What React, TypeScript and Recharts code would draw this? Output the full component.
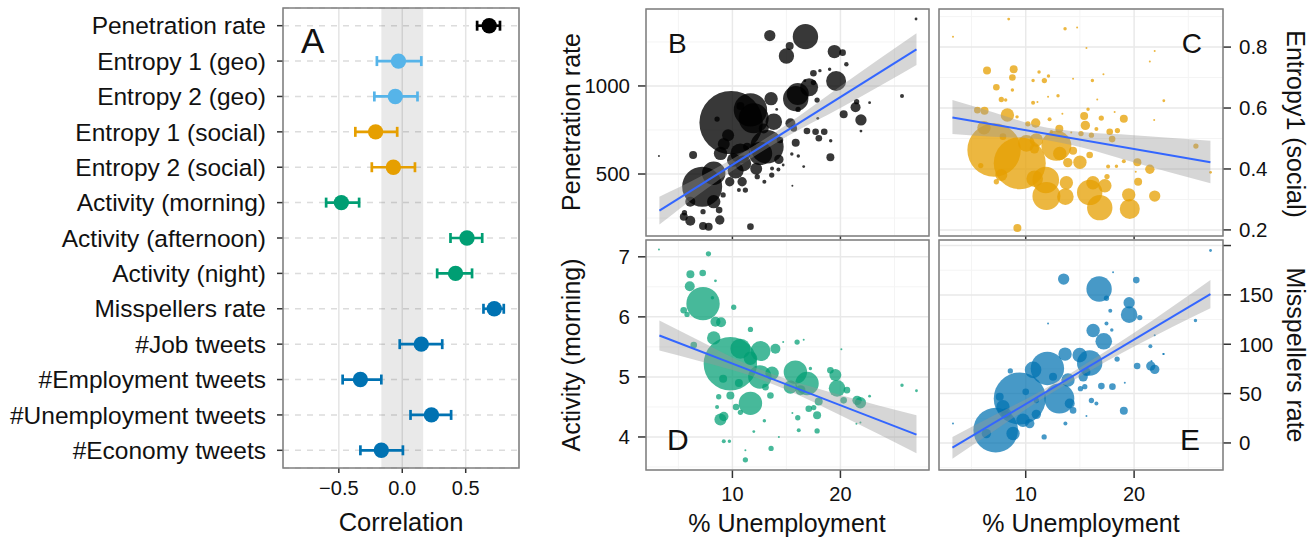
import React from 'react';
import {
  ComposedChart,
  ScatterChart,
  Scatter,
  XAxis,
  YAxis,
  ZAxis,
  CartesianGrid,
  ErrorBar,
  ReferenceArea,
  Line,
  Area,
} from 'recharts';

const FONT = '"Liberation Sans", Arial, Helvetica, sans-serif';
const INK = '#111111';

// ---------- panel A: correlations ----------
const corrLabels = [
  'Penetration rate',
  'Entropy 1 (geo)',
  'Entropy 2 (geo)',
  'Entropy 1 (social)',
  'Entropy 2 (social)',
  'Activity (morning)',
  'Activity (afternoon)',
  'Activity (night)',
  'Misspellers rate',
  '#Job tweets',
  '#Employment tweets',
  '#Unemployment tweets',
  '#Economy tweets',
];
const corrValues = [0.685, -0.03, -0.055, -0.21, -0.07, -0.48, 0.51, 0.42, 0.725, 0.15, -0.33, 0.23, -0.165];
const corrLow = [0.59, -0.2, -0.22, -0.37, -0.24, -0.6, 0.38, 0.275, 0.64, -0.02, -0.47, 0.065, -0.33];
const corrHigh = [0.77, 0.15, 0.12, -0.04, 0.1, -0.34, 0.63, 0.55, 0.8, 0.315, -0.165, 0.385, 0.005];
const corrGroup = [0, 1, 1, 2, 2, 3, 3, 3, 4, 4, 4, 4, 4];
const groupColors = ['#000000', '#56B4E9', '#E69F00', '#009E73', '#0072B2'];
const corrTicks = [-0.5, 0, 0.5];
const corrTickLabels = ['\u22120.5', '0.0', '0.5'];
const nullBand = [-0.165, 0.165];

// ---------- panels B-E: [% unemployment, value, bubble weight] ----------
type Pt = [number, number, number];

const penetrationPts: Pt[] = [
  [16.76, 1280, 161], [13.46, 1286, 32], [15.3, 1227, 16], [15.0, 1170, 59], [19.44, 1195, 45],
  [20.2, 1189, 11], [20.55, 1123, 5], [19.6, 1028, 100], [19.0, 1095, 3], [17.5, 1072, 11],
  [18.1, 1087, 3], [17.1, 992, 81], [16.05, 955, 121], [15.86, 928, 161], [17.5, 1019, 7],
  [13.58, 928, 45], [17.84, 920, 7], [16.08, 867, 7], [9.88, 792, 1005], [11.67, 864, 279],
  [11.97, 816, 225], [10.74, 886, 16], [8.58, 812, 7], [13.83, 797, 69], [15.37, 788, 25],
  [12.9, 759, 25], [15.68, 759, 11], [16.9, 744, 11], [17.7, 740, 11], [18.5, 740, 11],
  [18.0, 703, 11], [19.1, 689, 3], [15.86, 678, 16], [13.2, 655, 279], [12.6, 617, 137],
  [9.2, 670, 36], [8.9, 617, 45], [10.74, 617, 100], [10.12, 580, 45], [11.36, 655, 16],
  [11.98, 659, 7], [14.3, 583, 22], [15.5, 614, 3], [16.1, 602, 3], [19.07, 595, 16],
  [16.6, 542, 2], [6.36, 608, 16], [3.2, 602, 1], [7.2, 428, 400], [8.27, 504, 137],
  [8.27, 343, 45], [6.1, 343, 25], [5.56, 280, 7], [5.5, 258, 16], [6.1, 235, 25],
  [7.28, 286, 7], [8.83, 239, 22], [7.28, 205, 16], [7.8, 201, 16], [8.77, 295, 11],
  [9.14, 381, 7], [9.75, 456, 22], [10.9, 456, 22], [11.2, 409, 7], [10.6, 409, 4],
  [11.67, 201, 11], [12.3, 485, 7], [12.96, 456, 4], [13.64, 494, 7], [13.67, 532, 4],
  [14.26, 526, 4], [14.7, 551, 2], [15.55, 434, 1], [21.4, 879, 25], [21.9, 807, 32],
  [21.5, 911, 7], [20.3, 839, 16], [22.7, 905, 2], [21.9, 744, 2], [25.7, 943, 4],
  [27.0, 1380, 2], [14.4, 693, 11], [14.1, 867, 2], [17.9, 816, 2], [16.7, 1030, 2],
  [11.0, 560, 64], [12.2, 530, 36], [10.3, 520, 64], [9.6, 720, 36],
];

const entropyPts: Pt[] = [
  [3.29, 0.834, 1], [8.43, 0.892, 2], [13.63, 0.86, 3], [14.74, 0.864, 1], [15.6, 0.797, 1],
  [21.9, 0.787, 1], [21.45, 0.753, 1], [6.43, 0.723, 16], [8.89, 0.727, 16], [8.77, 0.7, 11],
  [11.23, 0.718, 3], [12.1, 0.705, 3], [11.72, 0.69, 7], [10.68, 0.69, 3], [14.37, 0.696, 1],
  [16.15, 0.69, 3], [17.17, 0.711, 1], [7.29, 0.668, 11], [8.77, 0.659, 3], [12.06, 0.637, 1],
  [12.98, 0.64, 3], [7.75, 0.628, 7], [8.15, 0.626, 3], [10.68, 0.617, 4], [11.08, 0.62, 1],
  [16.6, 0.628, 1], [22.74, 0.624, 2], [5.54, 0.593, 11], [6.2, 0.591, 16], [8.31, 0.577, 45],
  [9.2, 0.571, 3], [15.75, 0.596, 3], [13.38, 0.581, 1], [15.39, 0.574, 16], [16.97, 0.567, 7],
  [19.05, 0.565, 16], [18.2, 0.587, 1], [21.85, 0.561, 1], [12.2, 0.563, 4], [15.5, 0.543, 22],
  [16.52, 0.531, 4], [17.75, 0.522, 11], [18.46, 0.526, 7], [10.92, 0.551, 22], [10.2, 0.548, 7],
  [6.15, 0.535, 45], [13.1, 0.532, 16], [12.37, 0.522, 3], [14.2, 0.52, 1], [15.1, 0.516, 7],
  [16.06, 0.511, 7], [17.97, 0.498, 11], [7.08, 0.462, 713], [9.45, 0.419, 676], [12.83, 0.476, 225],
  [13.14, 0.451, 45], [10.98, 0.495, 45], [10.06, 0.484, 69], [14.37, 0.46, 16], [15.0, 0.422, 45],
  [15.9, 0.446, 11], [13.88, 0.421, 22], [11.85, 0.364, 177], [10.83, 0.368, 69], [7.75, 0.38, 36],
  [5.85, 0.411, 7], [7.29, 0.358, 7], [11.91, 0.311, 196], [13.66, 0.309, 69], [13.75, 0.355, 45],
  [15.9, 0.323, 161], [16.83, 0.273, 161], [16.2, 0.355, 45], [17.3, 0.345, 45], [17.5, 0.375, 7],
  [19.6, 0.269, 100], [19.5, 0.315, 45], [21.9, 0.311, 32], [20.37, 0.358, 16], [20.3, 0.422, 16],
  [21.45, 0.399, 22], [19.05, 0.425, 4], [17.6, 0.408, 4], [18.37, 0.409, 3], [20.15, 0.391, 1],
  [25.7, 0.475, 7], [27.05, 0.389, 2], [9.23, 0.206, 16], [7.9, 0.506, 11], [10.8, 0.466, 22],
];

const morningPts: Pt[] = [
  [3.2, 7.12, 1], [7.78, 7.05, 7], [6.11, 6.71, 16], [7.25, 6.73, 11], [6.05, 6.51, 25],
  [7.28, 6.22, 279], [5.49, 6.11, 11], [5.8, 6.04, 7], [8.43, 5.92, 25], [8.95, 5.91, 25],
  [8.15, 6.32, 3], [8.43, 6.6, 2], [10.12, 6.16, 7], [11.67, 5.79, 7], [8.27, 5.65, 45],
  [6.42, 5.53, 11], [9.81, 5.22, 713], [10.74, 5.47, 100], [12.6, 5.43, 100], [13.98, 5.47, 25],
  [11.67, 5.31, 45], [12.54, 5.0, 137], [13.67, 5.06, 45], [11.67, 4.56, 137], [9.14, 4.97, 16],
  [9.81, 4.69, 16], [8.73, 4.67, 7], [8.58, 4.5, 4], [8.89, 4.29, 36], [9.2, 4.34, 22],
  [10.34, 4.5, 11], [10.74, 4.41, 7], [13.52, 4.69, 11], [13.06, 4.83, 11], [15.83, 5.08, 137],
  [16.91, 4.89, 137], [15.37, 4.83, 45], [15.99, 5.58, 7], [16.6, 5.62, 1], [14.7, 5.58, 1],
  [16.3, 4.78, 25], [17.22, 5.14, 3], [19.07, 5.11, 11], [19.53, 5.03, 36], [19.69, 4.81, 69],
  [20.6, 4.78, 11], [20.3, 4.61, 11], [21.54, 4.61, 22], [21.85, 4.57, 32], [17.99, 4.59, 16],
  [17.07, 4.47, 11], [17.84, 4.36, 16], [17.53, 4.49, 7], [16.05, 4.32, 7], [15.55, 4.4, 1],
  [16.14, 4.11, 4], [17.84, 4.1, 7], [12.96, 4.27, 3], [11.98, 4.09, 2], [14.3, 4.0, 1],
  [13.58, 3.81, 7], [11.2, 3.78, 1], [11.2, 3.62, 7], [9.2, 3.93, 4], [9.72, 3.93, 3],
  [20.09, 5.46, 1], [22.7, 4.68, 2], [21.48, 4.22, 1], [21.85, 4.24, 1], [25.7, 4.86, 3],
  [27.04, 4.77, 2], [10.6, 4.9, 16],
];

const misspellPts: Pt[] = [
  [27.05, 195, 2], [13.5, 166, 32], [20.2, 165, 11], [18.06, 173, 1], [16.77, 156, 161],
  [17.45, 146.6, 7], [19.54, 142, 32], [19.54, 130, 69], [20.52, 127, 7], [17.8, 134, 4],
  [17.45, 121, 4], [17.94, 114.5, 3], [12.06, 121, 1], [16.22, 114, 45], [17.2, 103, 69],
  [21.9, 109, 1], [21.5, 98, 4], [25.66, 124, 3], [22.68, 90, 1], [13.63, 90, 45],
  [14.98, 89, 53], [15.9, 81, 161], [18.43, 85, 7], [12.0, 75.5, 279], [10.68, 74, 69],
  [8.58, 73, 7], [9.45, 45, 676], [7.23, 13, 497], [13.1, 45, 225], [13.9, 63.7, 45],
  [14.06, 40, 25], [12.52, 67, 16], [15.3, 67, 22], [15.45, 57, 7], [15.6, 72, 16],
  [16.98, 57.6, 11], [18.0, 57, 11], [15.05, 55, 7], [16.06, 43, 7], [16.52, 40, 4],
  [19.05, 32.5, 16], [15.6, 27.4, 1], [13.66, 19.6, 4], [11.7, 6.1, 7], [14.37, 33, 11],
  [10.98, 29, 22], [10.37, 19.6, 22], [8.83, 9.5, 45], [7.9, 36.6, 45], [7.6, 46.7, 16],
  [3.29, 19.6, 1], [20.28, 78, 11], [21.54, 78, 22], [21.9, 74.5, 22], [21.6, 83, 1],
  [22.74, 90, 1], [19.14, 61, 1], [10.0, 51.8, 11], [10.98, 43, 7], [8.2, 30, 25],
  [6.37, 9.5, 22], [9.75, 23, 45],
];

// fitted lines and confidence bands
const fitX = [3.24, 27.04];
const bandX = [3.24, 7, 11, 15, 20, 27.04];

const penetrationFit = [292, 1208];
const penetrationLo = [213, 390, 560, 712, 875, 1119];
const penetrationHi = [371, 484, 622, 780, 999, 1299];

const entropyFit = [0.569, 0.422];
const entropyLo = [0.515, 0.506, 0.499, 0.472, 0.421, 0.353];
const entropyHi = [0.626, 0.586, 0.543, 0.522, 0.511, 0.493];

const morningFit = [5.69, 4.04];
const morningLo = [5.44, 5.26, 5.06, 4.785, 4.36, 3.73];
const morningHi = [5.94, 5.6, 5.24, 4.965, 4.7, 4.36];

const misspellFit = [-4.7, 150.7];
const misspellLo = [-15.9, 11.6, 41.2, 67.4, 97.6, 136.5];
const misspellHi = [6.1, 27.6, 50.2, 76.4, 111.6, 165];

const unempDomain: [number, number] = [2.0, 28.2];
const unempTicks = [10, 20];
const unempMinor = [5, 15, 25];

const Z_MAX = 1024;

interface PanelProps {
  left: number;
  top: number;
  width: number;
  height: number;
  margin: { top: number; right: number; bottom: number; left: number };
  points: Pt[];
  color: string;
  opacity: number;
  yDomain: [number, number];
  yTicks: number[];
  yTickLabels: string[];
  yMinor: number[];
  fit: number[];
  lo: number[];
  hi: number[];
  showX: boolean;
  right: boolean;
}

function BubblePanel(p: PanelProps) {
  const pts = p.points.map(([x, y, w]) => ({ x, y, w }));
  const fitData = fitX.map((x, i) => ({ x, fit: p.fit[i] }));
  const bandData = bandX.map((x, i) => ({ x, band: [p.lo[i], p.hi[i]] }));
  const tickLine = { stroke: '#333', strokeWidth: 1.5 };
  return (
    <div style={{ position: 'absolute', left: p.left, top: p.top }}>
      <ComposedChart width={p.width} height={p.height} margin={p.margin}>
        <CartesianGrid
          verticalValues={unempMinor}
          horizontalValues={p.yMinor}
          stroke="#f4f4f4"
          strokeWidth={1}
        />
        <CartesianGrid stroke="#e9e9e9" strokeWidth={1.5} />
        <XAxis
          type="number"
          dataKey="x"
          domain={unempDomain}
          ticks={unempTicks}
          allowDataOverflow
          interval={0}
          height={p.showX ? 70 : 4}
          tickSize={p.showX ? 8 : 4}
          tickMargin={9}
          axisLine={false}
          tickLine={tickLine}
          tick={{ fill: INK, fontSize: 20 }}
          tickFormatter={(v: number) => (p.showX ? String(v) : '')}
        />
        <YAxis
          type="number"
          dataKey="y"
          orientation={p.right ? 'right' : 'left'}
          domain={p.yDomain}
          ticks={p.yTicks}
          allowDataOverflow
          interval={0}
          width={p.right ? 92 : 86}
          tickSize={8}
          tickMargin={8}
          axisLine={false}
          tickLine={tickLine}
          tick={{ fill: INK, fontSize: 20.5 }}
          tickFormatter={(v: number) => p.yTickLabels[p.yTicks.indexOf(v)] ?? ''}
        />
        <ZAxis type="number" dataKey="w" domain={[0, Z_MAX]} range={[0, Z_MAX * Math.PI]} />
        <Scatter data={pts} fill={p.color} fillOpacity={p.opacity} isAnimationActive={false} />
        <Area
          data={bandData}
          dataKey="band"
          type="monotone"
          stroke="none"
          fill="#999999"
          fillOpacity={0.4}
          isAnimationActive={false}
          zIndex={700}
        />
        <Line
          data={fitData}
          dataKey="fit"
          type="linear"
          stroke="#3366FF"
          strokeWidth={2}
          dot={false}
          activeDot={false}
          isAnimationActive={false}
          zIndex={800}
        />
        <ReferenceArea
          x1={unempDomain[0]}
          x2={unempDomain[1]}
          y1={p.yDomain[0]}
          y2={p.yDomain[1]}
          fill="none"
          stroke="#7f7f7f"
          strokeWidth={1.5}
          zIndex={900}
        />
      </ComposedChart>
    </div>
  );
}

function CorrelationPanel() {
  const xDomain: [number, number] = [-0.94, 0.92];
  const rowTicks = corrLabels.map((_, i) => i);
  const groups = groupColors.map((color, g) => ({
    color,
    rows: corrValues
      .map((v, i) => ({ row: i, r: v, err: [v - corrLow[i], corrHigh[i] - v], g: corrGroup[i] }))
      .filter((d) => d.g === g),
  }));
  return (
    <div style={{ position: 'absolute', left: 0, top: 0 }}>
      <ScatterChart width={530} height={540} margin={{ top: 8, right: 11, bottom: 0, left: 0 }}>
        <ReferenceArea
          x1={nullBand[0]}
          x2={nullBand[1]}
          fill="#000000"
          fillOpacity={0.085}
          stroke="none"
        />
        <CartesianGrid vertical={false} strokeDasharray="6 6" stroke="#dcdcdc" strokeWidth={1.5} />
        <CartesianGrid horizontal={false} stroke="#e4e4e4" strokeWidth={1.5} />
        <XAxis
          type="number"
          dataKey="r"
          domain={xDomain}
          ticks={corrTicks}
          allowDataOverflow
          interval={0}
          height={72}
          tickSize={5}
          tickMargin={8}
          axisLine={false}
          tickLine={{ stroke: '#333', strokeWidth: 1.5 }}
          tick={{ fill: INK, fontSize: 20 }}
          tickFormatter={(v: number) => corrTickLabels[corrTicks.indexOf(v)] ?? ''}
        />
        <YAxis
          type="number"
          dataKey="row"
          domain={[-0.5, 12.5]}
          reversed
          ticks={rowTicks}
          allowDataOverflow
          interval={0}
          width={283}
          tickSize={6}
          tickMargin={11}
          axisLine={false}
          tickLine={{ stroke: '#333', strokeWidth: 1.5 }}
          tick={{ fill: INK, fontSize: 24.5 }}
          tickFormatter={(v: number) => corrLabels[v] ?? ''}
        />
        {groups.map((g) => (
          <Scatter
            key={g.color}
            data={g.rows}
            fill={g.color}
            isAnimationActive={false}
            shape={(s: any) => <circle cx={s.cx} cy={s.cy} r={7.7} fill={g.color} />}
          >
            <ErrorBar dataKey="err" direction="x" width={5} stroke={g.color} strokeWidth={2.7} />
          </Scatter>
        ))}
        <ReferenceArea
          x1={xDomain[0]}
          x2={xDomain[1]}
          y1={-0.5}
          y2={12.5}
          fill="none"
          stroke="#7f7f7f"
          strokeWidth={1.5}
          zIndex={900}
        />
      </ScatterChart>
    </div>
  );
}

export default function App() {
  return (
    <div
      style={{
        position: 'absolute',
        left: 0,
        top: 0,
        width: 1315,
        height: 540,
        background: '#ffffff',
        fontFamily: FONT,
        overflow: 'hidden',
      }}
    >
      <CorrelationPanel />
      <BubblePanel
        left={560}
        top={0}
        width={380}
        height={240}
        margin={{ top: 9, right: 11, bottom: 0, left: 0 }}
        points={penetrationPts}
        color="#000000"
        opacity={0.78}
        yDomain={[148, 1437]}
        yTicks={[500, 1000]}
        yTickLabels={['500', '1000']}
        yMinor={[250, 750, 1250]}
        fit={penetrationFit}
        lo={penetrationLo}
        hi={penetrationHi}
        showX={false}
        right={false}
      />
      <BubblePanel
        left={930}
        top={0}
        width={385}
        height={240}
        margin={{ top: 9, right: 0, bottom: 0, left: 9 }}
        points={entropyPts}
        color="#E69F00"
        opacity={0.75}
        yDomain={[0.18, 0.925]}
        yTicks={[0.2, 0.4, 0.6, 0.8]}
        yTickLabels={['0.2', '0.4', '0.6', '0.8']}
        yMinor={[0.3, 0.5, 0.7, 0.9]}
        fit={entropyFit}
        lo={entropyLo}
        hi={entropyHi}
        showX={false}
        right
      />
      <BubblePanel
        left={560}
        top={230}
        width={380}
        height={310}
        margin={{ top: 10, right: 11, bottom: 0, left: 0 }}
        points={morningPts}
        color="#009E73"
        opacity={0.72}
        yDomain={[3.45, 7.28]}
        yTicks={[4, 5, 6, 7]}
        yTickLabels={['4', '5', '6', '7']}
        yMinor={[3.5, 4.5, 5.5, 6.5]}
        fit={morningFit}
        lo={morningLo}
        hi={morningHi}
        showX
        right={false}
      />
      <BubblePanel
        left={930}
        top={230}
        width={385}
        height={310}
        margin={{ top: 10, right: 0, bottom: 0, left: 9 }}
        points={misspellPts}
        color="#0072B2"
        opacity={0.72}
        yDomain={[-27.4, 205.6]}
        yTicks={[0, 50, 100, 150, 200]}
        yTickLabels={['0', '50', '100', '150', '']}
        yMinor={[-25, 25, 75, 125, 175]}
        fit={misspellFit}
        lo={misspellLo}
        hi={misspellHi}
        showX
        right
      />
      <svg
        width={1315}
        height={540}
        style={{ position: 'absolute', left: 0, top: 0, pointerEvents: 'none' }}
        fontFamily={FONT}
        fill={INK}
      >
        <text x={401} y={531} textAnchor="middle" fontSize={25.5}>Correlation</text>
        <text x={787} y={532} textAnchor="middle" fontSize={25}>% Unemployment</text>
        <text x={1081} y={532} textAnchor="middle" fontSize={25}>% Unemployment</text>
        <text transform="translate(580,122) rotate(-90)" textAnchor="middle" fontSize={25}>
          Penetration rate
        </text>
        <text transform="translate(580,355) rotate(-90)" textAnchor="middle" fontSize={25}>
          Activity (morning)
        </text>
        <text transform="translate(1287,124) rotate(90)" textAnchor="middle" fontSize={25}>
          Entropy1 (social)
        </text>
        <text transform="translate(1287,355) rotate(90)" textAnchor="middle" fontSize={25}>
          Misspellers rate
        </text>
        <text x={301} y={53} fontSize={35}>A</text>
        <text x={668} y={53} fontSize={28}>B</text>
        <text x={1202} y={53} fontSize={28} textAnchor="end">C</text>
        <text x={667} y={450} fontSize={30}>D</text>
        <text x={1200} y={450} fontSize={30} textAnchor="end">E</text>
      </svg>
    </div>
  );
}
